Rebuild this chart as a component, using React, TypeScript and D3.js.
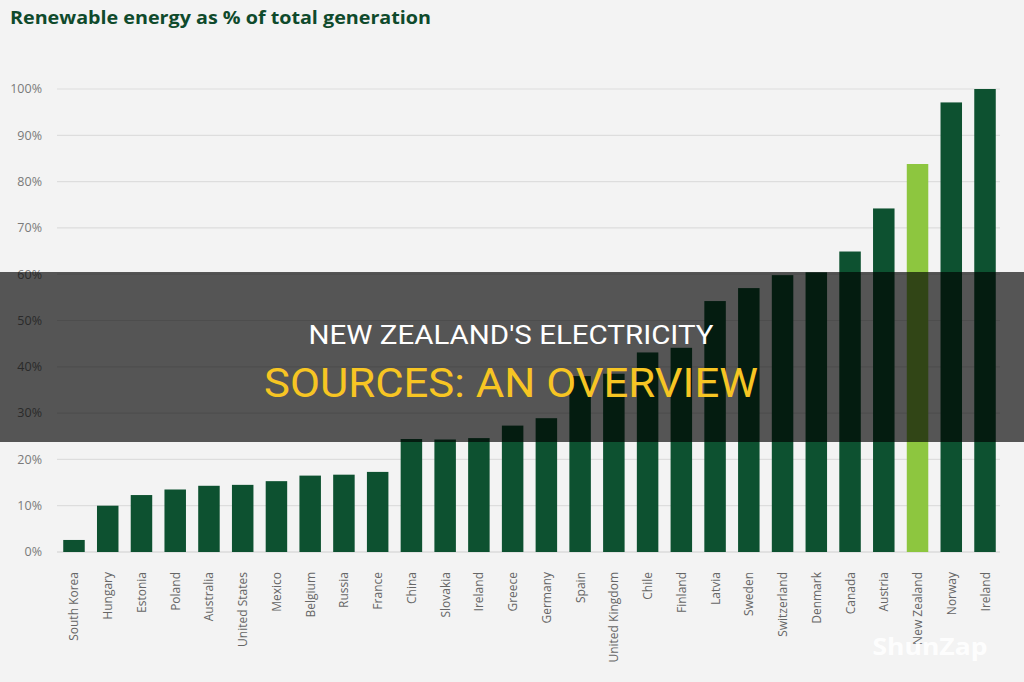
import React from "react";
import * as d3 from "d3";

const countries = [
  "South Korea", "Hungary", "Estonia", "Poland", "Australia", "United States",
  "Mexico", "Belgium", "Russia", "France", "China", "Slovakia", "Ireland",
  "Greece", "Germany", "Spain", "United Kingdom", "Chile", "Finland", "Latvia",
  "Sweden", "Switzerland", "Denmark", "Canada", "Austria", "New Zealand",
  "Norway", "Ireland ",
];

const renewableShare = [
  2.6, 10.0, 12.3, 13.5, 14.3, 14.5, 15.3, 16.5, 16.7, 17.3, 24.4, 24.3, 24.6,
  27.3, 28.9, 38.0, 38.5, 43.1, 44.1, 54.2, 57.0, 59.8, 60.4, 64.9, 74.2, 83.8,
  97.1, 100.0,
];

const highlighted = "New Zealand";
const yTicks = [0, 10, 20, 30, 40, 50, 60, 70, 80, 90, 100];

const chartTitle = "Renewable energy as % of total generation";
const headlineTop = "NEW ZEALAND'S ELECTRICITY";
const headlineBottom = "SOURCES: AN OVERVIEW";
const brand = "ShunZap";

const W = 1024;
const H = 682;
const plot = { left: 57, right: 1002, top: 89, bottom: 552 };

const DARK = "#0d5130";
const BRIGHT = "#8dc63f";
const FONT = "'Open Sans', 'Noto Sans', sans-serif";
const NARROW = "'Roboto', 'Liberation Sans', sans-serif";

export default function App() {
  const x = d3
    .scaleBand<string>()
    .domain(countries)
    .range([plot.left, plot.right])
    .paddingInner(0.363)
    .paddingOuter(0.185);

  const y = d3.scaleLinear().domain([0, 100]).range([plot.bottom, plot.top]);

  return (
    <svg
      width={W}
      height={H}
      viewBox={`0 0 ${W} ${H}`}
      style={{ position: "fixed", left: 0, top: 0, display: "block" }}
    >
      <rect x={0} y={0} width={W} height={H} fill="#f3f3f3" />

      <text x={10} y={24} fontFamily={FONT} fontWeight={700} fontSize={17.5}
        fill="#0f4a2c" textLength={421} lengthAdjust="spacingAndGlyphs">
        {chartTitle}
      </text>

      {/* gridlines and y labels */}
      {yTicks.map((t) => (
        <g key={t}>
          <line x1={plot.left} x2={1000} y1={y(t)} y2={y(t)}
            stroke={t === 0 ? "#cfcfcf" : "#dddddd"} strokeWidth={1.2} />
          <text x={42} y={y(t)} dy="0.35em" textAnchor="end" fontFamily={FONT}
            fontSize={12.5} fill="#7a7a7a">
            {`${t}%`}
          </text>
        </g>
      ))}

      {/* bars */}
      {countries.map((c, i) => (
        <rect key={c} x={x(c)} y={y(renewableShare[i])} width={x.bandwidth()}
          height={y(0) - y(renewableShare[i])}
          fill={c === highlighted ? BRIGHT : DARK} />
      ))}

      {/* category labels */}
      {countries.map((c) => {
        const cx = (x(c) as number) + x.bandwidth() / 2;
        return (
          <text key={`l-${c}`} transform={`translate(${cx + 4.5},572) rotate(-90)`}
            textAnchor="end" fontFamily={FONT} fontSize={12} fill="#666666">
            {c.trim()}
          </text>
        );
      })}

      {/* headline band */}
      <rect x={0} y={272} width={W} height={170} fill="#000" fillOpacity={0.65} />
      <text x={511} y={344} textAnchor="middle" fontFamily={NARROW} fontSize={26}
        fill="#ffffff" textLength={405} lengthAdjust="spacingAndGlyphs">
        {headlineTop}
      </text>
      <text x={511} y={397} textAnchor="middle" fontFamily={NARROW} fontSize={40}
        fill="#f7c523" textLength={494} lengthAdjust="spacingAndGlyphs">
        {headlineBottom}
      </text>

      <text x={930} y={655} textAnchor="middle" fontFamily={FONT} fontWeight={700}
        fontSize={24} fill="#ffffff" fillOpacity={0.92} textLength={115}
        lengthAdjust="spacingAndGlyphs">
        {brand}
      </text>
    </svg>
  );
}
